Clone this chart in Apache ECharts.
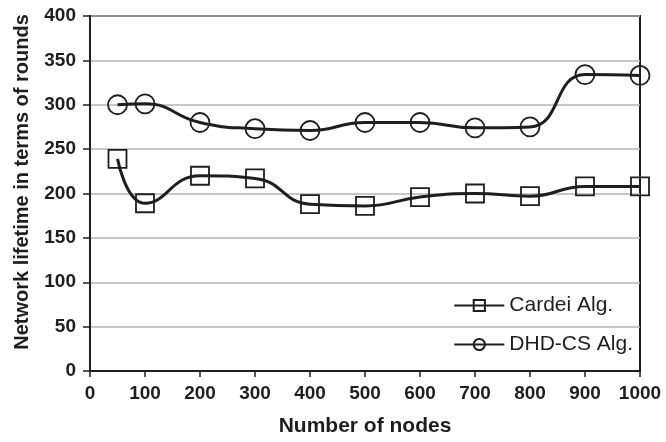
<!DOCTYPE html>
<html>
<head>
<meta charset="utf-8">
<script src="https://cdn.jsdelivr.net/npm/echarts@6/dist/echarts.min.js"></script>
<style>html,body{margin:0;padding:0;background:#fff;}#c{width:666px;height:442px;}</style>
</head>
<body>
<div id="c"></div>
<script>
var nodes = [50, 100, 200, 300, 400, 500, 600, 700, 800, 900, 1000];
var cardei = [239, 189, 220, 217, 188, 186, 196, 200, 197, 208, 208];
var dhdcs = [300, 301, 280, 273, 271, 280, 280, 274, 275, 334, 333];
var seriesNames = ['Cardei Alg.', 'DHD-CS Alg.'];
var xTitle = 'Number of nodes';
var yTitle = 'Network lifetime in terms of rounds';

function pairs(v){ return nodes.map(function(x,i){ return [x, v[i]]; }); }
var FONT = 'Liberation Sans, Arial, Helvetica, sans-serif';
var INK = '#1e1e1e';

var chart = echarts.init(document.getElementById('c'), null, {renderer:'canvas'});
chart.setOption({
  animation: false,
  backgroundColor: '#fff',
  grid: {left: 90, right: 26, top: 16, bottom: 71, show: true, borderColor: INK, borderWidth: 2, backgroundColor: 'transparent'},
  legend: {
    orient: 'vertical', right: 28, top: 290,
    itemWidth: 50, itemHeight: 14, itemGap: 18,
    textStyle: {fontFamily: FONT, fontSize: 21, color: INK, lineHeight: 20},
    data: seriesNames
  },
  xAxis: {
    type: 'value', min: 0, max: 1000, interval: 100,
    name: xTitle, nameLocation: 'middle', nameGap: 45,
    nameTextStyle: {fontFamily: FONT, fontSize: 21, fontWeight: 'bold', color: INK},
    axisLine: {show: true, onZero: false, lineStyle: {color: INK, width: 2}},
    axisTick: {show: true, inside: false, length: 6, lineStyle: {color: INK, width: 1.5}},
    axisLabel: {fontFamily: FONT, fontSize: 19, fontWeight: 'bold', color: INK, margin: 13,
      formatter: function(v){ return String(v); }},
    splitLine: {show: false}
  },
  yAxis: {
    type: 'value', min: 0, max: 400, interval: 50,
    name: yTitle, nameLocation: 'middle', nameGap: 58, nameRotate: 90,
    nameTextStyle: {fontFamily: FONT, fontSize: 20, fontWeight: 'bold', color: INK, padding: [0,0,0,23]},
    axisLine: {show: true, lineStyle: {color: INK, width: 2}},
    axisTick: {show: true, inside: false, length: 7, lineStyle: {color: INK, width: 1.5}},
    axisLabel: {fontFamily: FONT, fontSize: 19, fontWeight: 'bold', color: INK, margin: 14,
      formatter: function(v){ return String(v); }},
    splitLine: {show: true, lineStyle: {color: '#b4b4b4', width: 1.5}}
  },
  series: [
    {
      name: seriesNames[0], type: 'line', data: pairs(cardei), smooth: 0.5,
      symbol: 'rect', symbolSize: 18,
      lineStyle: {color: INK, width: 3},
      itemStyle: {color: 'rgba(255,255,255,0)', borderColor: INK, borderWidth: 1.8}
    },
    {
      name: seriesNames[1], type: 'line', data: pairs(dhdcs), smooth: 0.5,
      symbol: 'circle', symbolSize: 19,
      lineStyle: {color: INK, width: 3},
      itemStyle: {color: 'rgba(255,255,255,0)', borderColor: INK, borderWidth: 1.8}
    }
  ]
});
</script>
</body>
</html>
